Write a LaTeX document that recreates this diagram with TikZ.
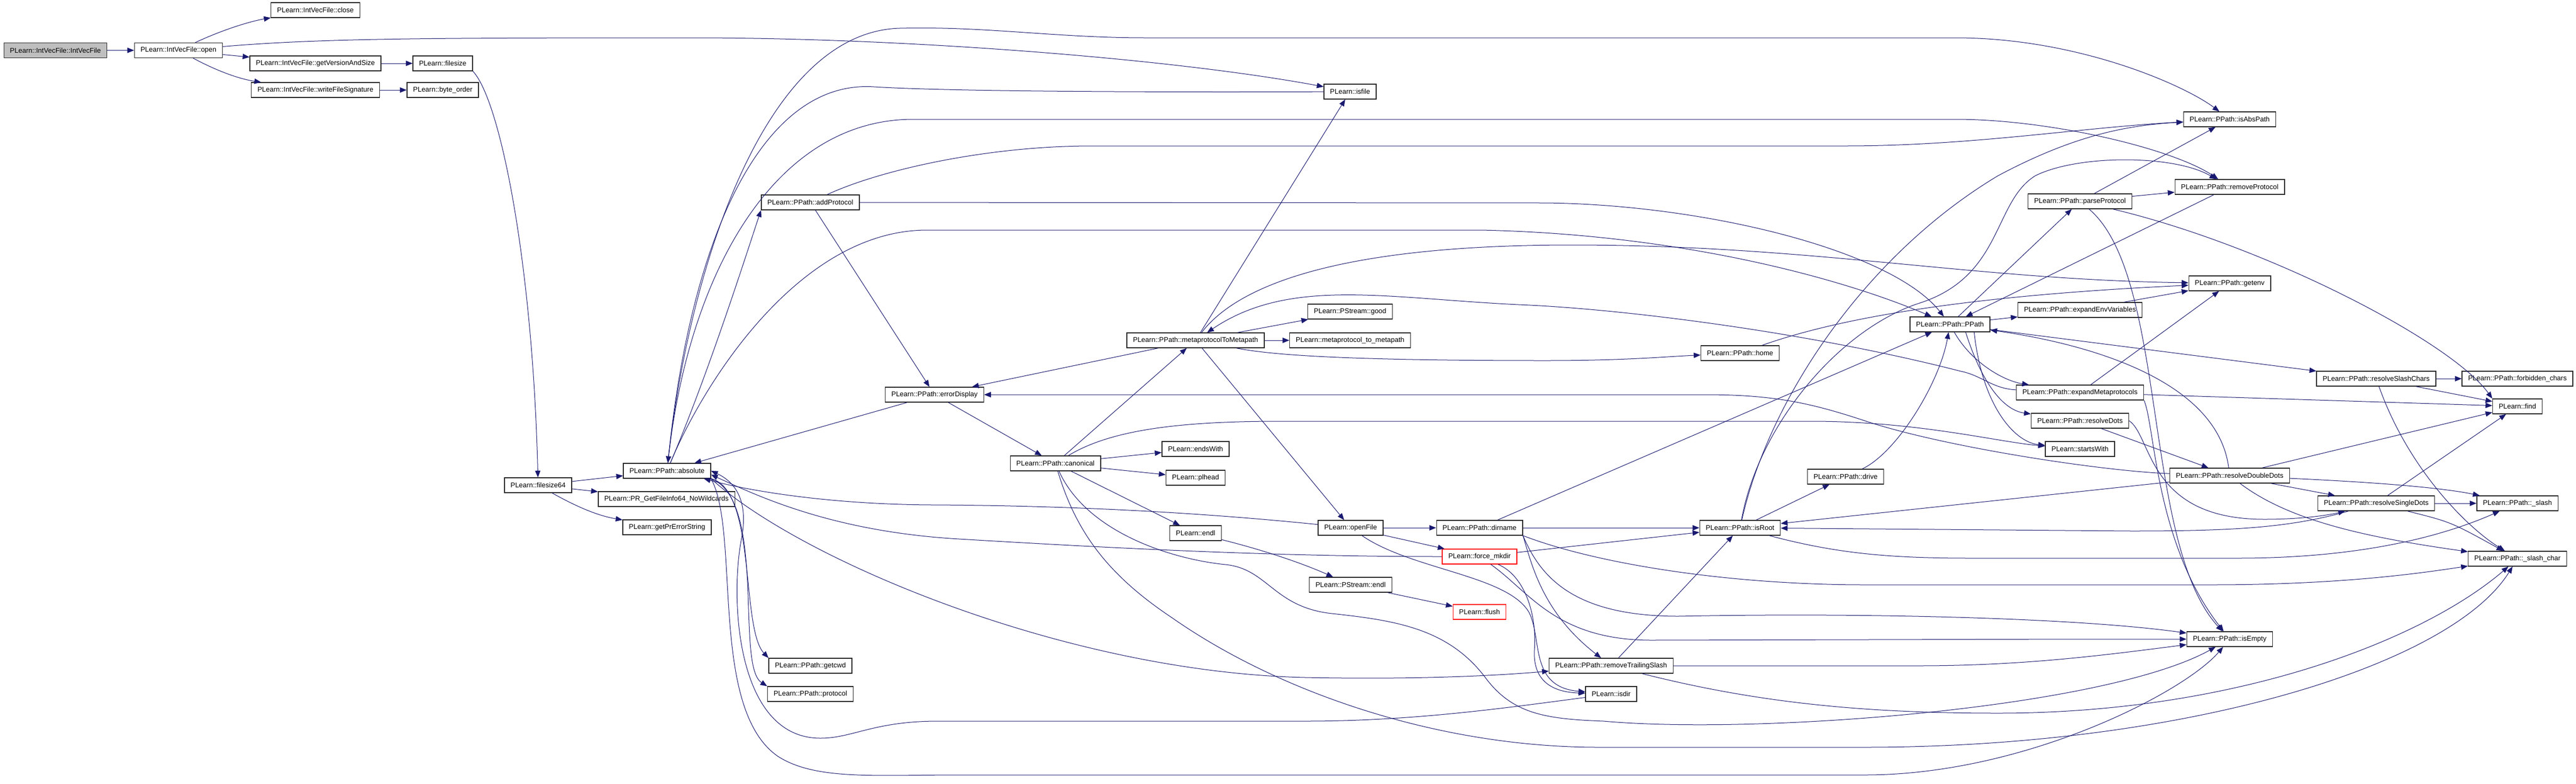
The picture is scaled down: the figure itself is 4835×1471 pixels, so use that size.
\documentclass[tikz,border=0pt]{standalone}
\usepackage{fontspec}
\setmainfont{Liberation Sans}
\usetikzlibrary{arrows.meta}
\definecolor{callblue}{RGB}{25,25,112}
\definecolor{rootgray}{RGB}{191,191,191}
\tikzset{every picture/.style={line width=0.75pt}}
\tikzset{
  fn/.style={draw=black!85, line width=1pt, fill=white, minimum height=21pt, inner xsep=8.6pt, inner ysep=0pt, font=\fontsize{9.75}{11.7}\selectfont},
  fnroot/.style={fn, fill=rootgray},
  fnmiss/.style={fn, draw=red},
  call/.style={draw=callblue, line width=0.75pt, -{Triangle[length=9.5pt,width=7.5pt]}},
}

\begin{document}
\begin{tikzpicture}[x=0.75pt,y=0.75pt,yscale=-1,xscale=1]
	\useasboundingbox (0,0) rectangle (4835,1471);
	
	% Text Node: IntVecFile side
	\node[fnroot] (ivf) at (104,94.5) {PLearn::IntVecFile::IntVecFile};
	\node[fn] (open) at (335,94.5) {PLearn::IntVecFile::open};
	\node[fn] (close) at (592,19) {PLearn::IntVecFile::close};
	\node[fn] (getver) at (592,119) {PLearn::IntVecFile::getVersionAndSize};
	\node[fn] (writesig) at (592,169) {PLearn::IntVecFile::writeFileSignature};
	\node[fn] (filesize) at (831,119) {PLearn::filesize};
	\node[fn] (byteorder) at (831,169) {PLearn::byte\_order};
	\node[fn] (filesize64) at (1010,911) {PLearn::filesize64};
	\node[fn] (absolute) at (1252,884) {PLearn::PPath::absolute};
	\node[fn] (prget) at (1251,937) {PLearn::PR\_GetFileInfo64\_NoWildcards};
	\node[fn] (prerr) at (1252,990) {PLearn::getPrErrorString};
	\node[fn] (getcwd) at (1521,1250) {PLearn::PPath::getcwd};
	\node[fn] (protocol) at (1521,1303) {PLearn::PPath::protocol};
	\node[fn] (addprot) at (1521,380) {PLearn::PPath::addProtocol};
	\node[fn] (errdisp) at (1754,741) {PLearn::PPath::errorDisplay};
	\node[fn] (canon) at (1981,870) {PLearn::PPath::canonical};
	
	% Text Node: middle columns
	\node[fn] (mtm) at (2244,639) {PLearn::PPath::metaprotocolToMetapath};
	\node[fn] (endswith) at (2244,843) {PLearn::endsWith};
	\node[fn] (plhead) at (2244,897) {PLearn::plhead};
	\node[fn] (endl) at (2244,1001) {PLearn::endl};
	\node[fn] (isfile) at (2534,172) {PLearn::isfile};
	\node[fn] (good) at (2534,585) {PLearn::PStream::good};
	\node[fn] (mtm2) at (2534,639) {PLearn::metaprotocol\_to\_metapath};
	\node[fn] (openfile) at (2535,991) {PLearn::openFile};
	\node[fn] (pendl) at (2535,1098) {PLearn::PStream::endl};
	\node[fn] (dirname) at (2777,991) {PLearn::PPath::dirname};
	\node[fnmiss] (forcemk) at (2777,1045) {PLearn::force\_mkdir};
	\node[fnmiss] (flush) at (2777,1149) {PLearn::flush};
	\node[fn] (remtrail) at (3024,1250) {PLearn::PPath::removeTrailingSlash};
	\node[fn] (isdir) at (3024,1303) {PLearn::isdir};
	\node[fn] (home) at (3266,663) {PLearn::PPath::home};
	\node[fn] (isroot) at (3266,991) {PLearn::PPath::isRoot};
	\node[fn] (drive) at (3464,895) {PLearn::PPath::drive};
	\node[fn] (ppath) at (3660,609) {PLearn::PPath::PPath};
	
	% Text Node: right columns
	\node[fn] (parseprot) at (3904,378) {PLearn::PPath::parseProtocol};
	\node[fn] (expenv) at (3904,582) {PLearn::PPath::expandEnvVariables};
	\node[fn] (expmeta) at (3904,737) {PLearn::PPath::expandMetaprotocols};
	\node[fn] (resdots) at (3904,790) {PLearn::PPath::resolveDots};
	\node[fn] (startswith) at (3904,843) {PLearn::startsWith};
	\node[fn] (isabs) at (4185,224) {PLearn::PPath::isAbsPath};
	\node[fn] (remprot) at (4185,351) {PLearn::PPath::removeProtocol};
	\node[fn] (getenv) at (4185,532) {PLearn::PPath::getenv};
	\node[fn] (resdd) at (4185,893) {PLearn::PPath::resolveDoubleDots};
	\node[fn] (isempty) at (4185,1200) {PLearn::PPath::isEmpty};
	\node[fn] (resslash) at (4460,711) {PLearn::PPath::resolveSlashChars};
	\node[fn] (ressingle) at (4460,945) {PLearn::PPath::resolveSingleDots};
	\node[fn] (forbidden) at (4725,711) {PLearn::PPath::forbidden\_chars};
	\node[fn] (find) at (4725,763) {PLearn::find};
	\node[fn] (slash) at (4725,945) {PLearn::PPath::\_slash};
	\node[fn] (slashchar) at (4725,1049) {PLearn::PPath::\_slash\_char};
	
	%Straight Lines: IntVecFile calls
	\draw[call] (ivf) -- (open);
	\draw[call] (open) .. controls (420,55) and (470,40) .. (close);
	\draw[call] (open) -- (getver);
	\draw[call] (open) .. controls (420,140) and (460,150) .. (writesig);
	\draw[call] (open) .. controls (600,72) and (800,71) .. (1300,71) .. controls (1700,71) and (2200,110) .. (isfile);
	\draw[call] (getver) -- (filesize);
	\draw[call] (writesig) -- (byteorder);
	\draw[call] (filesize.south east) .. controls (940,190) and (1000,500) .. (filesize64);
	\draw[call] (filesize64) -- (absolute);
	\draw[call] (filesize64) -- (prget);
	\draw[call] (filesize64) .. controls (1080,950) and (1120,968) .. (prerr);
	
	%Straight Lines: absolute
	\draw[call] (absolute) .. controls (1330,700) and (1400,480) .. (addprot.south west);
	\draw[call] (absolute) .. controls (1290,520) and (1430,60) .. (1689,53) .. controls (1850,49) and (1980,71) .. (2150,71) -- (3670,71) .. controls (3900,71) and (4100,160) .. (isabs);
	\draw[call] (isfile) .. controls (2250,173) and (1800,173) .. (1640,163) .. controls (1440,150) and (1300,420) .. (absolute);
	\draw[call] (absolute) .. controls (1290,520) and (1450,224) .. (1714,224) -- (3670,224) .. controls (3850,224) and (4080,280) .. (remprot);
	\draw[call] (absolute) .. controls (1320,720) and (1500,432) .. (1740,432) -- (2780,432) .. controls (3150,440) and (3450,520) .. (ppath);
	\draw[call] (absolute.south east) .. controls (1420,920) and (1390,1180) .. (getcwd.north west);
	\draw[call] (absolute.south east) .. controls (1440,940) and (1380,1250) .. (protocol.north west);
	\draw[call] (absolute.south east) .. controls (1390,1000) and (1330,1330) .. (1460,1420) .. controls (1530,1465) and (1640,1455) .. (1800,1455) -- (3500,1455) .. controls (3800,1455) and (4100,1300) .. (isempty);
	\draw[call] (absolute.south east) .. controls (1500,1050) and (2000,1262) .. (2450,1272) .. controls (2700,1277) and (2850,1265) .. (remtrail);
	\draw[call] (isdir) .. controls (2820,1330) and (2650,1354) .. (2450,1354) -- (1760,1354) .. controls (1640,1354) and (1600,1386) .. (1540,1386) .. controls (1380,1386) and (1370,1120) .. (1392,1010) .. controls (1405,940) and (1380,905) .. (absolute.east);
	\draw[call] (errdisp) -- (absolute);
	\draw[call] (openfile) .. controls (2200,957) and (1950,949) .. (1750,948) .. controls (1550,947) and (1400,920) .. (absolute.348);
	\draw[call] (forcemk) .. controls (2400,1045) and (2100,1030) .. (1800,1012) .. controls (1560,998) and (1420,930) .. (absolute.355);
	
	%Straight Lines: addProtocol, errorDisplay, canonical
	\draw[call] (addprot) -- (errdisp);
	\draw[call] (addprot) -- (2900,381) .. controls (3200,384) and (3550,470) .. (ppath);
	\draw[call] (addprot) .. controls (1650,320) and (1850,274) .. (2050,274) -- (3463,274) .. controls (3700,274) and (3900,240) .. (isabs);
	\draw[call] (errdisp) -- (canon);
	\draw[call] (mtm) -- (errdisp);
	\draw[call] (canon) -- (mtm);
	\draw[call] (canon) -- (endswith);
	\draw[call] (canon) -- (plhead);
	\draw[call] (canon) -- (endl);
	\draw[call] (canon) .. controls (2080,810) and (2200,791) .. (2400,791) -- (3400,791) .. controls (3600,791) and (3750,830) .. (startswith);
	\draw[call] (canon) .. controls (2040,1000) and (2200,1050) .. (2300,1060) .. controls (2380,1068) and (2390,1140) .. (2500,1152) .. controls (2620,1165) and (2720,1180) .. (2790,1275) .. controls (2840,1340) and (2900,1350) .. (3010,1354) .. controls (3300,1380) and (3950,1330) .. (isempty);
	\draw[call] (canon) .. controls (2020,1000) and (2080,1080) .. (2200,1160) .. controls (2400,1300) and (2700,1403) .. (3000,1403) -- (3500,1403) .. controls (4100,1403) and (4600,1250) .. (slashchar);
	
	%Straight Lines: metaprotocolToMetapath
	\draw[call] (mtm) -- (good);
	\draw[call] (mtm) -- (mtm2);
	\draw[call] (mtm) -- (isfile);
	\draw[call] (mtm) -- (openfile);
	\draw[call] (mtm) .. controls (2380,665) and (2500,677) .. (2900,677) .. controls (3050,677) and (3120,670) .. (home);
	\draw[call] (mtm) .. controls (2320,540) and (2500,460) .. (2950,460) .. controls (3400,460) and (3700,525) .. (getenv);
	\draw[call] (expmeta) .. controls (3740,730) and (3720,705) .. (3680,697) .. controls (3400,625) and (3050,580) .. (2850,572) .. controls (2600,560) and (2420,520) .. (mtm);
	\draw[call] (endl) .. controls (2380,1035) and (2450,1060) .. (pendl);
	\draw[call] (pendl) -- (flush);
	
	%Straight Lines: openFile, dirname, force_mkdir
	\draw[call] (openfile) -- (dirname);
	\draw[call] (openfile) -- (forcemk);
	\draw[call] (openfile) .. controls (2650,1070) and (2830,1080) .. (2870,1150) .. controls (2895,1200) and (2870,1290) .. (isdir);
	\draw[call] (forcemk) .. controls (2860,1080) and (2885,1150) .. (2880,1220) .. controls (2876,1290) and (2930,1300) .. (isdir);
	\draw[call] (forcemk) -- (isroot);
	\draw[call] (forcemk) .. controls (2870,1110) and (2920,1202) .. (3100,1202) -- (3900,1200) -- (isempty);
	\draw[call] (dirname) -- (isroot);
	\draw[call] (dirname) -- (ppath);
	\draw[call] (dirname.south east) .. controls (2875,1060) and (2895,1150) .. (remtrail);
	\draw[call] (dirname.south east) .. controls (2890,1080) and (2950,1157) .. (3150,1157) .. controls (3500,1150) and (3900,1160) .. (isempty);
	\draw[call] (dirname.south east) .. controls (3000,1060) and (3250,1098) .. (3500,1098) -- (4150,1098) .. controls (4400,1098) and (4550,1075) .. (slashchar);
	\draw[call] (remtrail) -- (isroot);
	\draw[call] (remtrail) -- (3600,1250) .. controls (3800,1250) and (3950,1230) .. (isempty);
	\draw[call] (remtrail) .. controls (3300,1320) and (3500,1339) .. (3750,1339) .. controls (4200,1339) and (4550,1200) .. (slashchar);
	
	%Straight Lines: isRoot, drive, home
	\draw[call] (isroot) -- (drive);
	\draw[call] (drive) .. controls (3560,850) and (3640,720) .. (ppath);
	\draw[call] (isroot) .. controls (3320,750) and (3500,480) .. (3750,330) .. controls (3900,250) and (4000,235) .. (isabs);
	\draw[call] (isroot) .. controls (3300,800) and (3450,620) .. (3600,570) .. controls (3760,520) and (3740,380) .. (3820,330) .. controls (3900,290) and (4080,290) .. (remprot);
	\draw[call] (isroot) .. controls (3450,1040) and (3550,1048) .. (3700,1048) -- (4200,1048) .. controls (4450,1048) and (4600,1000) .. (slash);
	\draw[call] (home) .. controls (3500,580) and (3800,550) .. (getenv);
	
	%Straight Lines: PPath constructor
	\draw[call] (ppath) -- (expenv);
	\draw[call] ([xshift=6pt]ppath.south) .. controls (3700,680) and (3760,715) .. (expmeta);
	\draw[call] ([xshift=22pt]ppath.south) .. controls (3720,720) and (3760,770) .. (resdots);
	\draw[call] ([xshift=34pt]ppath.south) .. controls (3720,760) and (3780,830) .. (startswith);
	\draw[call] (ppath) -- (parseprot);
	\draw[call] (ppath) -- (resslash);
	\draw[call] (remprot) -- (ppath);
	\draw[call] (parseprot) -- (isabs);
	\draw[call] (parseprot) -- (remprot);
	\draw[call] (parseprot) .. controls (4250,460) and (4600,640) .. (find.north west);
	\draw[call] (parseprot) .. controls (4070,520) and (4020,1020) .. (isempty);
	\draw[call] (expenv) -- (getenv);
	\draw[call] (expmeta) -- (getenv);
	\draw[call] (expmeta) -- (find);
	\draw[call] (expmeta.south east) .. controls (4045,800) and (4045,1020) .. (isempty);
	
	%Straight Lines: dots and slashes
	\draw[call] (resdots) -- (resdd);
	\draw[call] (resdots.east) .. controls (4040,820) and (4030,975) .. (4250,975) .. controls (4330,975) and (4380,965) .. (ressingle);
	\draw[call] (resdd) -- (isroot);
	\draw[call] (resdd) .. controls (3950,885) and (3650,840) .. (3500,790) .. controls (3400,757) and (3330,741) .. (3200,741) -- (errdisp);
	\draw[call] (resdd) .. controls (4160,700) and (3880,640) .. (ppath);
	\draw[call] (resdd) -- (ressingle);
	\draw[call] (resdd) -- (find);
	\draw[call] (resdd) .. controls (4450,905) and (4580,915) .. (slash);
	\draw[call] (resdd) .. controls (4300,980) and (4450,1010) .. (slashchar);
	\draw[call] (ressingle) .. controls (4300,990) and (4200,997) .. (4000,997) -- (isroot);
	\draw[call] (ressingle) -- (find);
	\draw[call] (ressingle) -- (slash);
	\draw[call] (ressingle) .. controls (4600,980) .. (slashchar);
	\draw[call] (resslash) -- (forbidden);
	\draw[call] (resslash) -- (find);
	\draw[call] (resslash) .. controls (4520,880) and (4630,990) .. (slashchar);
	
\end{tikzpicture}
\end{document}
